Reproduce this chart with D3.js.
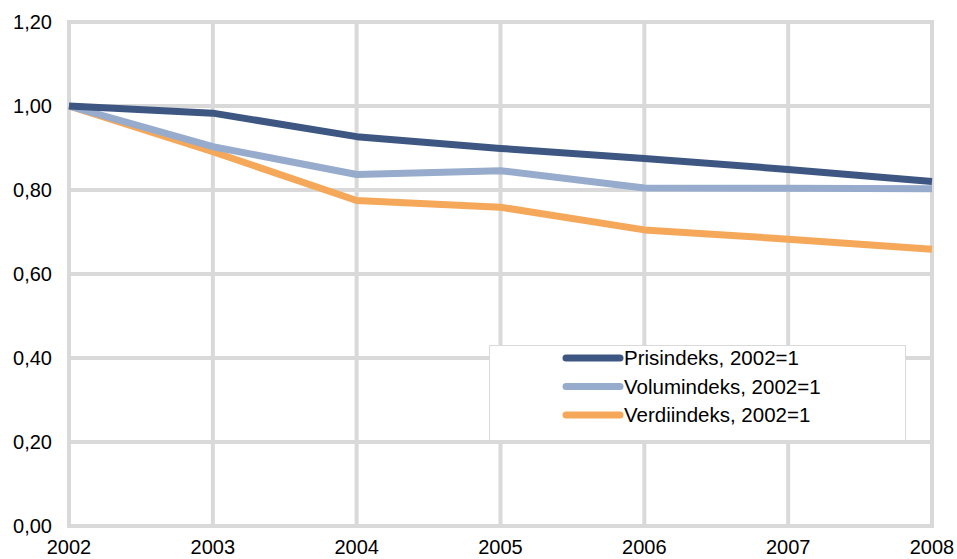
<!DOCTYPE html>
<html><head><meta charset="utf-8">
<script src="https://cdn.jsdelivr.net/npm/d3@7"></script>
<style>body{margin:0;background:#fff}svg{display:block;font-family:"Liberation Sans",Arial,sans-serif}</style>
</head><body>
<svg id="c" width="957" height="559"></svg>
<script>
const years = [2002, 2003, 2004, 2005, 2006, 2007, 2008];
const prisindeks = [1.00, 0.983, 0.927, 0.899, 0.875, 0.849, 0.820];
const volumindeks = [1.00, 0.903, 0.837, 0.846, 0.805, 0.804, 0.803];
const verdiindeks = [1.00, 0.891, 0.775, 0.759, 0.705, 0.683, 0.659];
const seriesNames = ["Prisindeks, 2002=1", "Volumindeks, 2002=1", "Verdiindeks, 2002=1"];
const seriesColors = ["#3d5782", "#97abcd", "#f5a85a"];
const yTicks = [0, 0.2, 0.4, 0.6, 0.8, 1.0, 1.2];

const svg = d3.select("#c");
const x = d3.scaleLinear().domain([2002, 2008]).range([69, 932]);
const y = d3.scaleLinear().domain([0, 1.2]).range([526, 22]);
const fmt = v => d3.format(".2f")(v).replace(".", ",");

// grid
svg.append("g").selectAll("line").data(yTicks).join("line")
  .attr("x1", x(2002)).attr("x2", x(2008)).attr("y1", d => y(d)).attr("y2", d => y(d))
  .attr("stroke", "#d9d9d9").attr("stroke-width", 4);
svg.append("g").selectAll("line").data(years).join("line")
  .attr("x1", d => x(d)).attr("x2", d => x(d)).attr("y1", y(1.2) - 2).attr("y2", y(0) + 2)
  .attr("stroke", "#d9d9d9").attr("stroke-width", 4);

// y labels
svg.append("g").selectAll("text").data(yTicks).join("text")
  .attr("x", 52).attr("y", d => y(d)).attr("dy", "0.35em").attr("text-anchor", "end")
  .attr("font-size", 20).attr("fill", "#000").text(fmt);
// x labels
svg.append("g").selectAll("text").data(years).join("text")
  .attr("x", d => x(d)).attr("y", 554).attr("text-anchor", "middle")
  .attr("font-size", 20).attr("fill", "#000").text(d => d);

const data = [prisindeks, volumindeks, verdiindeks];
const line = d3.line().x((d, i) => x(years[i])).y(d => y(d));
// draw order: orange, light blue, dark on top
[2, 1, 0].forEach(k => {
  svg.append("path").datum(data[k]).attr("d", line)
    .attr("fill", "none").attr("stroke", seriesColors[k]).attr("stroke-width", 7)
    .attr("stroke-linejoin", "round");
});

// legend
const lg = svg.append("g");
lg.append("rect").attr("x", 489.5).attr("y", 345.5).attr("width", 416).attr("height", 95)
  .attr("fill", "#fff").attr("stroke", "#d9d9d9").attr("stroke-width", 1);
seriesNames.forEach((n, i) => {
  const yy = 358 + i * 28.5;
  lg.append("line").attr("x1", 566).attr("x2", 620).attr("y1", yy).attr("y2", yy)
    .attr("stroke", seriesColors[i]).attr("stroke-width", 7).attr("stroke-linecap", "round");
  lg.append("text").attr("x", 624).attr("y", yy).attr("dy", "0.36em")
    .attr("font-size", 20.5).attr("fill", "#000").text(n);
});
</script>
</body></html>
